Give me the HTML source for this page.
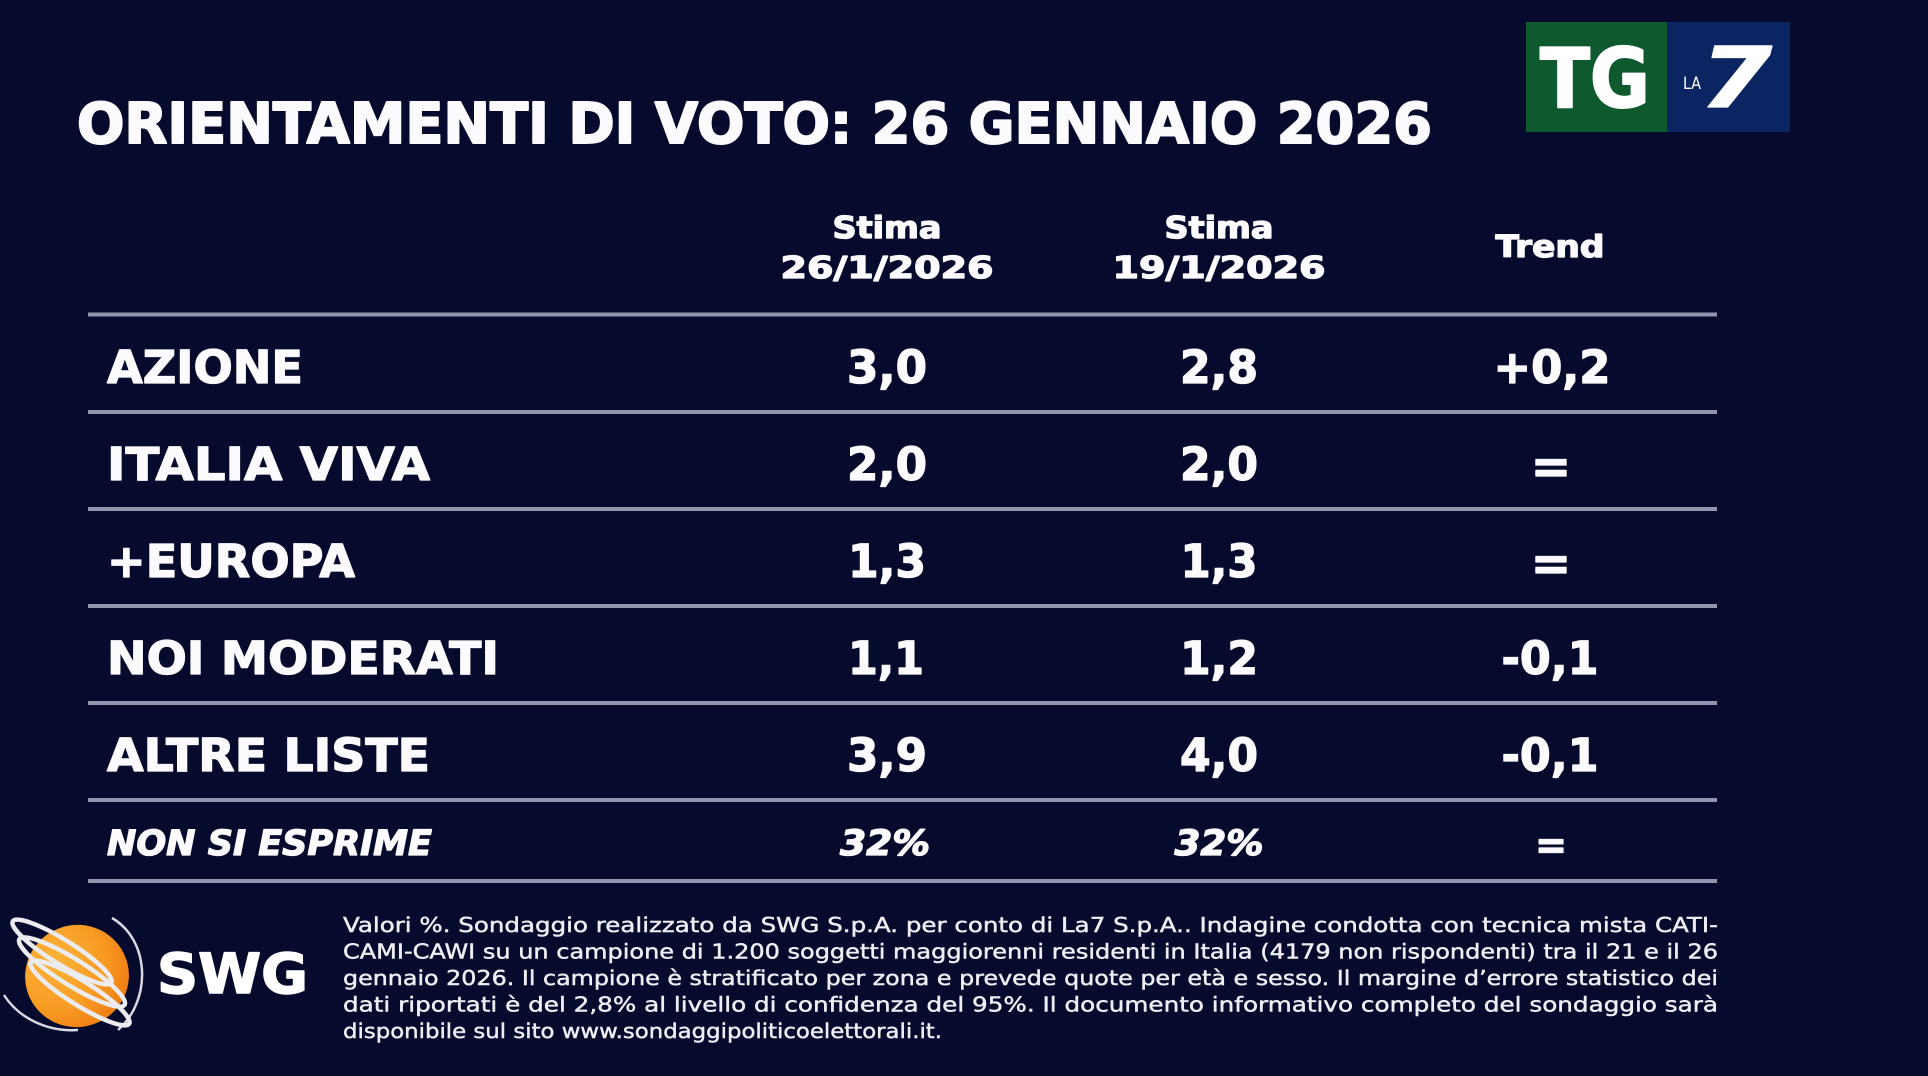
<!DOCTYPE html>
<html>
<head>
<meta charset="utf-8">
<style>
html,body{margin:0;padding:0;background:#060a2c;}
svg{display:block;}
.b{font-family:"DejaVu Sans","Liberation Sans",sans-serif;font-weight:bold;fill:#fbfbfd;stroke:#fbfbfd;stroke-width:1.3px;stroke-linejoin:round;}
.f{font-family:"DejaVu Sans","Liberation Sans",sans-serif;font-weight:normal;fill:#eeeef5;stroke:#eeeef5;stroke-width:0.45px;font-size:20.5px;}
</style>
</head>
<body>
<svg width="1928" height="1076" viewBox="0 0 1928 1076" xmlns="http://www.w3.org/2000/svg">
<defs>
<radialGradient id="og" cx="0.35" cy="0.3" r="0.8">
<stop offset="0" stop-color="#fbb33a"/>
<stop offset="0.6" stop-color="#f89a22"/>
<stop offset="1" stop-color="#ee7710"/>
</radialGradient>
</defs>
<rect x="0" y="0" width="1928" height="1076" fill="#060a2c"/>

<!-- Title -->
<text class="b" x="77" y="143" font-size="56" textLength="1355" lengthAdjust="spacingAndGlyphs" style="stroke-width:2px">ORIENTAMENTI DI VOTO: 26 GENNAIO 2026</text>

<!-- TG LA7 logo -->
<rect x="1526" y="22" width="141" height="110" fill="#0e5a2e"/>
<rect x="1667" y="22" width="123" height="110" fill="#0b2562"/>
<text class="b" x="1540" y="107" font-size="82" textLength="110" lengthAdjust="spacingAndGlyphs" style="fill:#ffffff;stroke:#ffffff;stroke-width:2px">TG</text>
<text x="1683" y="89" font-family="DejaVu Sans, sans-serif" font-size="17" fill="#ffffff" textLength="18" lengthAdjust="spacingAndGlyphs">LA</text>
<text class="b" x="1700" y="107" font-size="84" textLength="72" lengthAdjust="spacingAndGlyphs" style="fill:#ffffff;font-style:italic">7</text>

<!-- Header -->
<text class="b" x="887" y="238" font-size="30" text-anchor="middle" textLength="109" lengthAdjust="spacingAndGlyphs">Stima</text>
<text class="b" x="887" y="278" font-size="30" text-anchor="middle" textLength="213" lengthAdjust="spacingAndGlyphs">26/1/2026</text>
<text class="b" x="1219" y="238" font-size="30" text-anchor="middle" textLength="109" lengthAdjust="spacingAndGlyphs">Stima</text>
<text class="b" x="1219" y="278" font-size="30" text-anchor="middle" textLength="213" lengthAdjust="spacingAndGlyphs">19/1/2026</text>
<text class="b" x="1550" y="257" font-size="30" text-anchor="middle" textLength="109" lengthAdjust="spacingAndGlyphs">Trend</text>

<!-- Lines -->
<g fill="#9396b1">
<rect x="88" y="312.5" width="1629" height="4"/>
<rect x="88" y="410" width="1629" height="4"/>
<rect x="88" y="507" width="1629" height="4"/>
<rect x="88" y="604" width="1629" height="4"/>
<rect x="88" y="701" width="1629" height="4"/>
<rect x="88" y="798" width="1629" height="4"/>
<rect x="88" y="879" width="1629" height="4"/>
</g>

<!-- Rows -->
<g class="b" font-size="45">
<text x="107" y="383" textLength="196" lengthAdjust="spacingAndGlyphs">AZIONE</text>
<text x="887" y="383" text-anchor="middle" textLength="80" lengthAdjust="spacingAndGlyphs">3,0</text>
<text x="1219" y="383" text-anchor="middle" textLength="78" lengthAdjust="spacingAndGlyphs">2,8</text>
<text x="1552" y="383" text-anchor="middle" textLength="117" lengthAdjust="spacingAndGlyphs">+0,2</text>

<text x="107" y="480" textLength="323" lengthAdjust="spacingAndGlyphs">ITALIA VIVA</text>
<text x="887" y="480" text-anchor="middle" textLength="80" lengthAdjust="spacingAndGlyphs">2,0</text>
<text x="1219" y="480" text-anchor="middle" textLength="78" lengthAdjust="spacingAndGlyphs">2,0</text>
<text x="1551" y="483" text-anchor="middle" font-size="48">=</text>

<text x="107" y="577" textLength="248" lengthAdjust="spacingAndGlyphs">+EUROPA</text>
<text x="887" y="577" text-anchor="middle" textLength="78" lengthAdjust="spacingAndGlyphs">1,3</text>
<text x="1219" y="577" text-anchor="middle" textLength="77" lengthAdjust="spacingAndGlyphs">1,3</text>
<text x="1551" y="580" text-anchor="middle" font-size="48">=</text>

<text x="107" y="674" textLength="392" lengthAdjust="spacingAndGlyphs">NOI MODERATI</text>
<text x="886" y="674" text-anchor="middle" textLength="76" lengthAdjust="spacingAndGlyphs">1,1</text>
<text x="1219" y="674" text-anchor="middle" textLength="78" lengthAdjust="spacingAndGlyphs">1,2</text>
<text x="1550" y="674" text-anchor="middle" textLength="97" lengthAdjust="spacingAndGlyphs">-0,1</text>

<text x="107" y="771" textLength="323" lengthAdjust="spacingAndGlyphs">ALTRE LISTE</text>
<text x="887" y="771" text-anchor="middle" textLength="80" lengthAdjust="spacingAndGlyphs">3,9</text>
<text x="1219" y="771" text-anchor="middle" textLength="78" lengthAdjust="spacingAndGlyphs">4,0</text>
<text x="1550" y="771" text-anchor="middle" textLength="97" lengthAdjust="spacingAndGlyphs">-0,1</text>
</g>
<g class="b" font-size="35" font-style="italic">
<text x="107" y="855" textLength="325" lengthAdjust="spacingAndGlyphs">NON SI ESPRIME</text>
<text x="885" y="855" text-anchor="middle" textLength="90" lengthAdjust="spacingAndGlyphs">32%</text>
<text x="1219" y="855" text-anchor="middle" textLength="89" lengthAdjust="spacingAndGlyphs">32%</text>
</g>
<text class="b" x="1551" y="858" text-anchor="middle" font-size="38">=</text>

<!-- SWG logo -->
<g>
<path d="M112 918 C150 940 152 1000 118 1030" fill="none" stroke="#d9d9e3" stroke-width="2.5"/>
<path d="M4 995 C20 1020 50 1032 78 1030" fill="none" stroke="#d9d9e3" stroke-width="2.5"/>
<ellipse cx="77" cy="976" rx="52" ry="51" fill="url(#og)" transform="rotate(-20 77 976)"/>
<g fill="none" stroke="#ecebf0" stroke-width="4.5">
<ellipse cx="62" cy="952" rx="58" ry="12" transform="rotate(32 62 952)"/>
<ellipse cx="72" cy="972" rx="62" ry="13" transform="rotate(32 72 972)"/>
<ellipse cx="80" cy="993" rx="58" ry="12" transform="rotate(32 80 993)"/>
</g>
<text class="b" x="157" y="993" font-size="55" textLength="151" lengthAdjust="spacingAndGlyphs" style="fill:#ffffff;stroke:#ffffff;stroke-width:1.5px">SWG</text>
</g>

<!-- Footer -->
<text class="f" x="343" y="932" textLength="1375" lengthAdjust="spacingAndGlyphs">Valori %. Sondaggio realizzato da SWG S.p.A. per conto di La7 S.p.A.. Indagine condotta con tecnica mista CATI-</text>
<text class="f" x="343" y="958.5" textLength="1375" lengthAdjust="spacingAndGlyphs">CAMI-CAWI su un campione di 1.200 soggetti maggiorenni residenti in Italia (4179 non rispondenti) tra il 21 e il 26</text>
<text class="f" x="343" y="985" textLength="1375" lengthAdjust="spacingAndGlyphs">gennaio 2026. Il campione è stratificato per zona e prevede quote per età e sesso. Il margine d’errore statistico dei</text>
<text class="f" x="343" y="1011.5" textLength="1375" lengthAdjust="spacingAndGlyphs">dati riportati è del 2,8% al livello di confidenza del 95%. Il documento informativo completo del sondaggio sarà</text>
<text class="f" x="343" y="1038" textLength="599" lengthAdjust="spacingAndGlyphs">disponibile sul sito www.sondaggipoliticoelettorali.it.</text>
</svg>
</body>
</html>
